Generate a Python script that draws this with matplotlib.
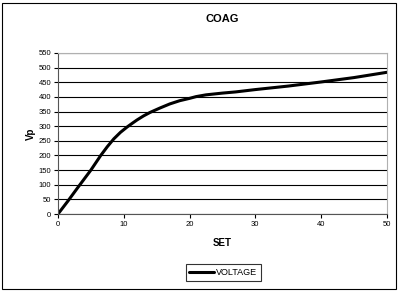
import matplotlib
matplotlib.use("Agg")
import matplotlib.pyplot as plt
from matplotlib.patches import Rectangle

plt.rcParams['font.family'] = ['Liberation Sans', 'DejaVu Sans']

set_vals = [0, 1.5, 3, 4, 5, 6.5, 7.5, 8.5, 9.5, 10.5, 11.3, 12, 13, 14, 15.5, 17,
            18.5, 20, 21, 22.5, 25, 27, 30, 35, 40, 45, 50]
voltage = [0, 44, 90, 120, 150, 200, 230, 257, 279, 297, 310, 321, 335, 347, 362, 376,
           387, 395, 401, 407, 413, 417, 425, 437, 451, 466, 484]

fig = plt.figure(figsize=(3.98, 2.91), dpi=100)
ax = fig.add_axes([0.1457, 0.2646, 0.972 - 0.1457, 0.8179 - 0.2646])

ax.plot(set_vals, voltage, color='black', linewidth=2.2, label='VOLTAGE',
        solid_joinstyle='round', solid_capstyle='round')

ax.set_xlim(0, 50)
ax.set_ylim(0, 550)
ax.set_xticks(range(0, 51, 10))
ax.set_yticks(range(0, 551, 50))
ax.yaxis.grid(True, color='black', linewidth=0.8)
ax.set_axisbelow(True)
ax.tick_params(labelsize=5.5, length=3, width=0.8, pad=2)
for s in ['top', 'right']:
    ax.spines[s].set_color('#b0b0b0')
ax.spines['left'].set_color('#555555')
ax.spines['bottom'].set_color('#555555')

ax.set_title('COAG', fontsize=8, fontweight='bold', pad=22)
ax.set_xlabel('SET', fontsize=7, fontweight='bold', labelpad=7)
ax.set_ylabel('Vp', fontsize=7, fontweight='bold', labelpad=2)

leg = fig.legend(loc='center', bbox_to_anchor=(0.561, 0.0635), fontsize=6.5,
                 frameon=True, fancybox=False, handlelength=2.8,
                 borderpad=0.4, handletextpad=0.2)
leg.get_frame().set_edgecolor('black')
leg.get_frame().set_linewidth(0.8)

fig.patches.append(Rectangle((0.004, 0.006), 0.99, 0.984, transform=fig.transFigure,
                             fill=False, edgecolor='black', linewidth=0.8))

fig.savefig('out.png', dpi=100)
